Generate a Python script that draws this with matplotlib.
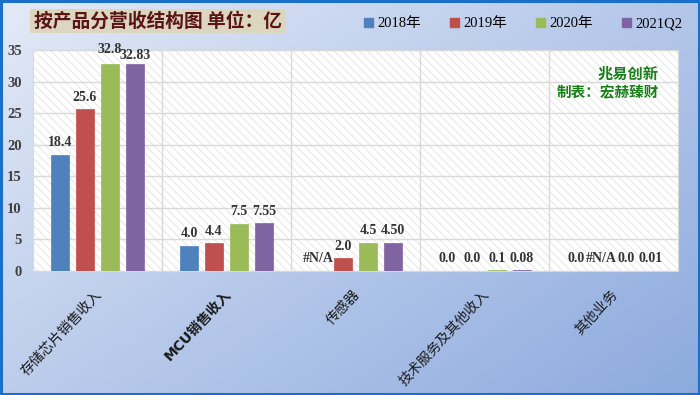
import numpy as np
import matplotlib
matplotlib.use("Agg")
import matplotlib.pyplot as plt
from matplotlib.patches import Rectangle, Patch
from matplotlib.transforms import ScaledTranslation

categories = ["存储芯片销售收入", "MCU销售收入", "传感器", "技术服务及其他收入", "其他业务"]
series_names = ["2018年", "2019年", "2020年", "2021Q2"]
v2018 = [18.4, 4.0, np.nan, 0.02, 0.02]
v2019 = [25.6, 4.4, 2.0, 0.02, np.nan]
v2020 = [32.8, 7.5, 4.5, 0.1, 0.02]
v2021q2 = [32.83, 7.55, 4.50, 0.08, 0.01]
series_values = [v2018, v2019, v2020, v2021q2]
label_formats = ["{:.1f}", "{:.1f}", "{:.1f}", "{:.2f}"]
colors = ["#4f81bd", "#c0504d", "#9bbb59", "#8064a2"]
yticks = [0, 5, 10, 15, 20, 25, 30, 35]
title = "按产品分营收结构图 单位：亿"
note1 = "兆易创新"
note2 = "制表：宏赫臻财"

SERIF = ["Liberation Serif", "Noto Sans CJK SC"]
CJK = ["Noto Sans CJK SC", "DejaVu Sans"]
plt.rcParams["hatch.linewidth"] = 0.6

W, H = 700, 395
fig = plt.figure(figsize=(7, 3.95), dpi=100)

# background gradient
bg = fig.add_axes([0, 0, 1, 1], zorder=-10)
yy, xx = np.mgrid[0:1:200j, 0:1:350j]
t = np.clip(0.55 * xx + 0.45 * yy, 0, 1)
c0 = np.array([228, 234, 247]) / 255
c1 = np.array([140, 170, 222]) / 255
img = c0[None, None, :] * (1 - t[..., None]) + c1[None, None, :] * t[..., None]
bg.imshow(img, aspect="auto", extent=[0, 1, 0, 1], origin="upper")
bg.set_xlim(0, 1); bg.set_ylim(0, 1)
bg.axis("off")
bg.add_patch(Rectangle((0.0015, 0.002), 0.997, 0.995, fill=False, edgecolor="#1a6fc9", lw=2.2,
                       transform=bg.transAxes))

# title box
bg.add_patch(Rectangle((30 / W, 1 - 33 / H), 256 / W, 24 / H, facecolor="#ddd6be", edgecolor="none"))
bg.text(158 / W, 1 - 21 / H, title, ha="center", va="center", fontsize=13.5, fontweight="bold",
        color="#5a1414", family=CJK)

ax = fig.add_axes([33 / W, 1 - 271 / H, 645 / W, 221 / H])
ax.set_facecolor("white")
ax.add_patch(Rectangle((0, 0), 1, 1, transform=ax.transAxes, facecolor="white",
                       edgecolor="#e2e2e2", hatch="\\\\\\\\", lw=0, zorder=0))
n = len(categories)
x = np.arange(n)
step = 0.194
width = 0.14
for k, (vals, col, fmt) in enumerate(zip(series_values, colors, label_formats)):
    pos = x + (k - 1.5) * step
    arr = np.array(vals, dtype=float)
    ax.bar(pos, np.nan_to_num(arr), width=width, color=col, zorder=3, edgecolor=col, lw=0.5)
    for i, (p, v) in enumerate(zip(pos, arr)):
        txt = "#N/A" if np.isnan(v) else fmt.format(v)
        dy = 4
        # the two tallest labels are staggered as in the original
        if i == 0 and k == 2:
            dy = 6
        if i == 0 and k == 3:
            dy = 1
        ax.annotate(txt, (p, 0 if np.isnan(v) else v), xytext=(0, dy), textcoords="offset points",
                    ha="center", va="bottom", fontsize=10, fontweight="bold", color="#333333",
                    family=SERIF, zorder=5)

ax.set_xlim(-0.5, n - 0.5)
ax.set_ylim(0, 35)
ax.set_yticks(yticks)
ax.set_yticklabels([str(v) for v in yticks], family=SERIF, fontweight="bold", fontsize=10.5,
                   color="#404040")
ax.set_xticks(x)
ax.set_xticklabels([])
ax.set_xticks(np.arange(n - 1) + 0.5, minor=True)
ax.tick_params(axis="both", which="both", length=0, pad=8)
ax.grid(True, axis="y", which="major", color="#d9d9d9", lw=1, zorder=1)
ax.grid(True, axis="x", which="minor", color="#d9d9d9", lw=1, zorder=1)
ax.grid(False, axis="x", which="major")
for s in ax.spines.values():
    s.set_color("#d9d9d9")
ax.set_axisbelow(True)

# category labels (rotated, ending at category centre)
label_tr = ax.get_xaxis_transform() + ScaledTranslation(2 / 100, -21 / 100, fig.dpi_scale_trans)
for i, lab in enumerate(categories):
    is_mcu = lab.startswith("MCU")
    fam = ["DejaVu Sans", "Noto Sans CJK SC"] if is_mcu else CJK
    ax.text(i, 0, lab, transform=label_tr, rotation=47, rotation_mode="anchor",
            ha="right", va="center", fontsize=10, color="#1a1a1a", family=fam,
            fontweight="bold" if is_mcu else "normal", clip_on=False)

# notes
ax.text(0.97, 0.895, note1, transform=ax.transAxes, ha="right", va="center", fontsize=11,
        color="#1a7f1a", family=CJK, fontweight="bold")
ax.text(0.97, 0.81, note2, transform=ax.transAxes, ha="right", va="center", fontsize=10.5,
        color="#1a7f1a", family=CJK, fontweight="bold")

handles = [Patch(facecolor=c, edgecolor=c) for c in colors]
fig.legend(handles, series_names, loc="center", bbox_to_anchor=(0.747, 1 - 24 / H), ncol=4,
           frameon=False, handlelength=0.6, handleheight=0.6, handletextpad=0.3,
           columnspacing=2.0, prop={"family": SERIF, "size": 10.5})

fig.savefig("out.png", dpi=100)
